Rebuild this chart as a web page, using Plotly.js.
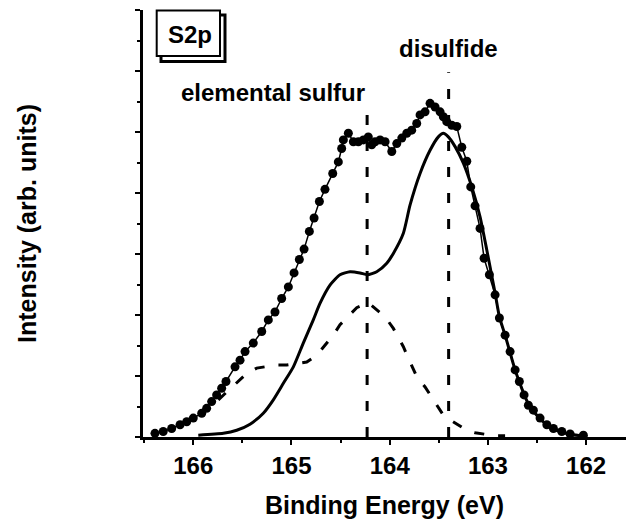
<!DOCTYPE html>
<html>
<head>
<meta charset="utf-8">
<script src="https://cdn.plot.ly/plotly-3.0.1.min.js"></script>
<style>html,body{margin:0;padding:0;background:#fff;}#chart{width:626px;height:526px;}</style>
</head>
<body>
<div id="chart"></div>
<script>
// Measured XPS S2p spectrum (dots)
const dataEnergy = [166.39,166.306,166.22,166.135,166.067,166.0,165.914,165.864,165.813,165.762,165.711,165.667,
  165.575,165.524,165.473,165.389,165.303,165.236,165.168,165.10,165.032,164.974,164.92,164.872,164.818,164.77,
  164.716,164.659,164.58,164.523,164.489,164.472,164.421,164.370,164.319,164.268,164.218,164.183,164.149,164.098,
  164.047,163.979,163.928,163.877,163.826,163.776,163.725,163.691,163.640,163.589,163.538,163.487,163.454,163.419,
  163.368,163.317,163.266,163.215,163.175,163.131,163.08,163.039,162.985,162.927,162.883,162.825,162.774,162.723,
  162.680,162.632,162.588,162.537,162.469,162.40,162.333,162.248,162.163,162.028];
const dataIntensity = [0.06,0.09,0.14,0.20,0.25,0.31,0.39,0.47,0.58,0.69,0.80,0.91,
  1.15,1.26,1.40,1.54,1.73,1.92,2.05,2.27,2.46,2.69,2.91,3.08,3.37,3.59,
  3.86,4.06,4.32,4.51,4.73,4.87,4.98,4.84,4.84,4.87,4.92,4.79,4.84,4.87,
  4.84,4.68,4.81,4.90,4.98,5.03,5.14,5.28,5.33,5.47,5.41,5.33,5.25,5.17,
  5.11,5.09,4.75,4.52,4.10,3.79,3.42,2.93,2.66,2.33,1.95,1.67,1.40,1.10,
  0.91,0.69,0.52,0.44,0.31,0.20,0.14,0.09,0.05,0.03];

// Fitted envelope (solid)
const fitEnergy = [165.949,165.694,165.558,165.422,165.287,165.185,165.083,164.981,164.880,164.778,164.710,164.608,
  164.506,164.404,164.302,164.228,164.132,164.030,163.963,163.861,163.793,163.691,163.589,163.505,163.454,163.403,
  163.334,163.250,163.164,163.080,163.012,162.927,162.883,162.825,162.774,162.723,162.680,162.632,162.588,162.537,
  162.469,162.40,162.333,162.248,162.163,162.05];
const fitIntensity = [0.03,0.06,0.11,0.21,0.39,0.61,0.88,1.15,1.54,1.92,2.19,2.49,
  2.66,2.71,2.69,2.66,2.71,2.85,3.01,3.34,3.80,4.32,4.70,4.92,4.98,4.92,
  4.76,4.49,4.10,3.61,3.07,2.36,1.97,1.67,1.38,1.10,0.90,0.70,0.54,0.42,
  0.30,0.20,0.13,0.08,0.04,0.02];

// Elemental sulfur component (dashed)
const compEnergy = [165.745,165.66,165.456,165.354,165.151,165.049,164.845,164.743,164.574,164.506,164.336,164.218,
  164.047,163.963,163.861,163.810,163.725,163.640,163.521,163.447,163.215,163.131,162.927,162.825];
const compIntensity = [0.61,0.74,1.04,1.13,1.18,1.18,1.23,1.34,1.67,1.84,2.12,2.20,
  1.97,1.78,1.48,1.29,0.99,0.82,0.52,0.34,0.11,0.07,0.02,0.02];

// Peak marker lines and labels
const peakEnergy = [164.23, 163.40];
const peakTop = [5.45, 5.98];
const peakLabels = ['elemental sulfur', 'disulfide'];
const panelLabel = 'S2p';
const xTickValues = [166, 165, 164, 163, 162];
const xTitle = 'Binding Energy (eV)';
const yTitle = 'Intensity (arb. units)';

const FONT = 'Liberation Sans, Arial, sans-serif';

const traces = [];
peakEnergy.forEach((e, i) => {
  traces.push({x: [e, e], y: [0, peakTop[i]], mode: 'lines', hoverinfo: 'skip', showlegend: false,
    line: {color: '#000', width: 3, dash: '10px,16px'}});
});
traces.push({x: compEnergy, y: compIntensity, mode: 'lines', showlegend: false,
  line: {color: '#000', width: 3, dash: '10px,14px'}});
traces.push({x: fitEnergy, y: fitIntensity, mode: 'lines', showlegend: false,
  line: {color: '#000', width: 3, shape: 'spline', smoothing: 0.6}});
traces.push({x: dataEnergy, y: dataIntensity, mode: 'lines+markers', showlegend: false,
  line: {color: '#000', width: 1.5}, marker: {color: '#000', size: 9}});

const W = 483, H = 427, L = 143, T = 10;
const px = v => (v - L) / W;
const py = v => (T + H - v) / H;

const layout = {
  width: 626, height: 526,
  margin: {l: L, r: 0, t: T, b: 526 - T - H},
  paper_bgcolor: '#fff', plot_bgcolor: '#fff',
  font: {family: FONT, size: 24, color: '#000', weight: 'bold'},
  xaxis: {
    range: [166.512, 161.594], tickvals: xTickValues, ticktext: xTickValues.map(String),
    showgrid: false, zeroline: false, showline: true, linecolor: '#000', linewidth: 3,
    ticks: 'outside', ticklen: 5, tickwidth: 2, tickcolor: '#000',
    tickfont: {family: FONT, size: 24, color: '#000', weight: 'bold'},
    minor: {dtick: 0.5, ticks: 'outside', ticklen: 3, tickwidth: 2, tickcolor: '#000', showgrid: false},
    title: {text: xTitle, font: {family: FONT, size: 25, color: '#000', weight: 'bold'}, standoff: 19}
  },
  yaxis: {
    range: [0, 7], dtick: 1, tick0: 0, showticklabels: false,
    showgrid: false, zeroline: false, showline: true, linecolor: '#000', linewidth: 3,
    ticks: 'outside', ticklen: 5, tickwidth: 2, tickcolor: '#000',
    minor: {dtick: 0.5, ticks: 'outside', ticklen: 3, tickwidth: 2, tickcolor: '#000', showgrid: false},
    title: {text: yTitle, font: {family: FONT, size: 25, color: '#000', weight: 'bold'}, standoff: 92}
  },
  shapes: [
    {type: 'rect', xref: 'paper', yref: 'paper', x0: px(161), x1: px(225), y0: py(61.5), y1: py(15),
     line: {color: '#000', width: 3}, fillcolor: '#fff', layer: 'above'},
    {type: 'rect', xref: 'paper', yref: 'paper', x0: px(156.7), x1: px(220), y0: py(56), y1: py(10.5),
     line: {color: '#000', width: 2}, fillcolor: '#fff', layer: 'above'}
  ],
  annotations: [
    {xref: 'x', yref: 'y', x: peakEnergy[0], y: 5.65, xanchor: 'right', yanchor: 'middle', showarrow: false,
     text: peakLabels[0], font: {family: FONT, size: 24, color: '#000', weight: 'bold'}},
    {xref: 'x', yref: 'y', x: peakEnergy[1], y: 6.37, xanchor: 'center', yanchor: 'middle', showarrow: false,
     text: peakLabels[1], font: {family: FONT, size: 24, color: '#000', weight: 'bold'}},
    {xref: 'paper', yref: 'paper', x: px(189.7), y: py(35), xanchor: 'center', yanchor: 'middle', showarrow: false,
     text: panelLabel, font: {family: FONT, size: 24, color: '#000', weight: 'bold'}}
  ]
};

Plotly.newPlot('chart', traces, layout, {displayModeBar: false, staticPlot: true});
</script>
</body>
</html>
